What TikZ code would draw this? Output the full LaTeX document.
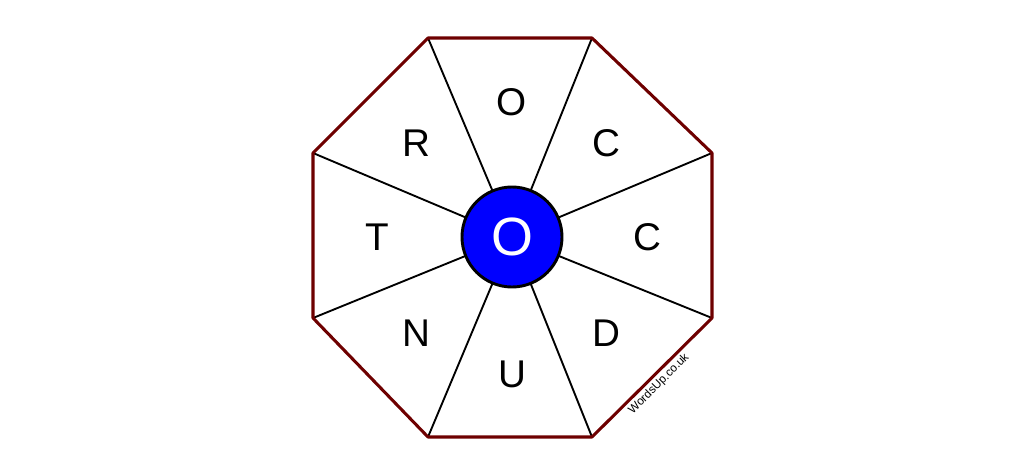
\documentclass[tikz,border=0pt]{standalone}
\usepackage{fontspec}
\setmainfont{Liberation Sans}
\usetikzlibrary{calc}
\definecolor{rimred}{RGB}{110,0,0}
\definecolor{hubblue}{RGB}{0,0,255}

\begin{document}
\begin{tikzpicture}[x=0.03cm, y=-0.03cm,
		letter/.style={font=\fontsize{33}{33}\selectfont},
		spoke/.style={line width=1.6pt, black},
		rim/.style={line width=2.6pt, draw=rimred, line join=round}]
		\useasboundingbox (0,0) rectangle (1024,476);
		
		\coordinate (v1) at (428,38);
		\coordinate (v2) at (592,38);
		\coordinate (v3) at (712,153);
		\coordinate (v4) at (712,318);
		\coordinate (v5) at (592,437);
		\coordinate (v6) at (428,437);
		\coordinate (v7) at (313,318);
		\coordinate (v8) at (313,153);
		\coordinate (hub) at (512,237);
		
		\foreach \i in {1,...,8}
			\draw [spoke] (hub) -- (v\i);
		\draw [rim] (v1) -- (v2) -- (v3) -- (v4) -- (v5) -- (v6) -- (v7) -- (v8) -- cycle;
		
		\node[circle, fill=hubblue, draw=black, line width=2.5pt, minimum size=3cm, inner sep=0pt, text=white, font=\fontsize{46}{46}\selectfont] (centre) at (hub) {O};
		
		\node[letter] (l1) at (512,102) {O};
		\node[letter] (l2) at (606,143) {C};
		\node[letter] (l3) at (647,237) {C};
		\node[letter] (l4) at (606,333) {D};
		\node[letter] (l5) at (512,374) {U};
		\node[letter] (l6) at (416,333) {N};
		\node[letter] (l7) at (377,237) {T};
		\node[letter] (l8) at (416,143) {R};
		
		\node[rotate=45, font=\fontsize{10}{10}\selectfont] (mark) at (659,384) {WordsUp.co.uk};
	\end{tikzpicture}
\end{document}
